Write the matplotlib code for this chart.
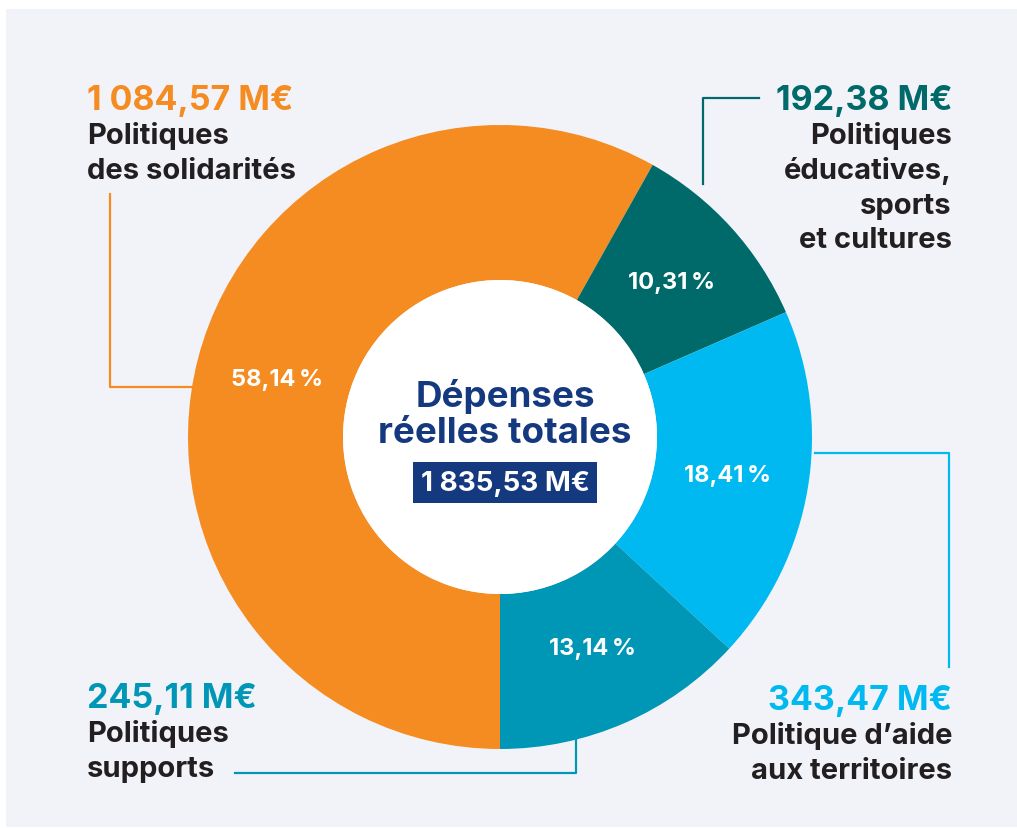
import matplotlib.pyplot as plt
from matplotlib.patches import Rectangle, Circle
import numpy as np

# data
categories = [
    "Politiques\ndes solidarités",
    "Politiques\néducatives,\nsports\net cultures",
    "Politique d’aide\naux territoires",
    "Politiques\nsupports",
]
values = [1084.57, 192.38, 343.47, 245.11]
value_labels = ["1 084,57 M€", "192,38 M€", "343,47 M€", "245,11 M€"]
pct_labels = ["58,14\u202f%", "10,31\u202f%", "18,41\u202f%", "13,14\u202f%"]
total_label = "1 835,53 M€"
colors = ["#F58C22", "#006A6A", "#00B9F0", "#0096B5"]

W, H = 1017, 829
FONT = ["Inter", "DejaVu Sans"]
DARK = "#231F20"
NAVY = "#15397F"


def yy(y):
    # pixel y (top-down) -> axis y (bottom-up)
    return H - y


fig = plt.figure(figsize=(W / 100, H / 100), dpi=100)
fig.patch.set_facecolor("white")
ax = fig.add_axes([0, 0, 1, 1])

# light panel behind everything
ax.add_patch(Rectangle((6, yy(828)), W - 6, 818, facecolor="#F2F3F9", edgecolor="none", zorder=0))

cx, cy, r_out, r_in = 500, yy(438), 312, 157
wedges, _ = ax.pie(values, colors=colors, startangle=-90, counterclock=False,
                   radius=r_out, center=(cx, cy),
                   wedgeprops=dict(width=r_out - r_in, linewidth=0))
for w in wedges:
    w.set_zorder(2)
ax.add_patch(Circle((cx, cy), r_in, facecolor="white", edgecolor="none", zorder=2))

# percentages inside the ring
for w, lab in zip(wedges, pct_labels):
    a = np.deg2rad((w.theta1 + w.theta2) / 2)
    rr = 0.74 * r_out
    ax.text(cx + rr * np.cos(a), cy + rr * np.sin(a), lab, color="white",
            fontsize=17, fontweight="bold", family=FONT, ha="center", va="center", zorder=3)

# centre text
ax.text(505, yy(407), "Dépenses", color=NAVY, fontsize=26.5, fontweight="bold",
        family=FONT, ha="center", va="baseline", zorder=3)
ax.text(505, yy(443), "réelles totales", color=NAVY, fontsize=26.5, fontweight="bold",
        family=FONT, ha="center", va="baseline", zorder=3)
ax.add_patch(Rectangle((413, yy(504)), 184, 41, facecolor=NAVY, edgecolor="none", zorder=3))
ax.text(505, yy(484), total_label, color="white", fontsize=20, fontweight="bold",
        family=FONT, ha="center", va="center", zorder=4)

# leader lines
lw = 1.6
ax.plot([110, 110, 195], [yy(195), yy(388), yy(388)], color=colors[0], lw=lw, zorder=1)
ax.plot([759, 703, 703], [yy(99), yy(99), yy(185)], color=colors[1], lw=lw, zorder=1)
ax.plot([815, 949, 949], [yy(454), yy(454), yy(668)], color=colors[2], lw=lw, zorder=1)
ax.plot([235, 576, 576], [yy(774), yy(774), yy(728)], color=colors[3], lw=lw, zorder=1)

# outer labels: (x, value baseline, alignment)
spots = [(87, 110, "left"), (952, 110, "right"), (952, 710, "right"), (87, 708, "left")]
step = 34.5
for (x, base, ha), val, cat, col in zip(spots, value_labels, categories, colors):
    ax.text(x, yy(base), val, color=col, fontsize=24.5, fontweight="bold",
            family=FONT, ha=ha, va="baseline", zorder=3)
    for i, line in enumerate(cat.split("\n")):
        ax.text(x, yy(base + step * (i + 1)), line, color=DARK, fontsize=21,
                fontweight="bold", family=FONT, ha=ha, va="baseline", zorder=3)

ax.set_xlim(0, W)
ax.set_ylim(0, H)
ax.set_aspect("equal")
ax.axis("off")

fig.savefig("out.png", dpi=100, facecolor="white")
